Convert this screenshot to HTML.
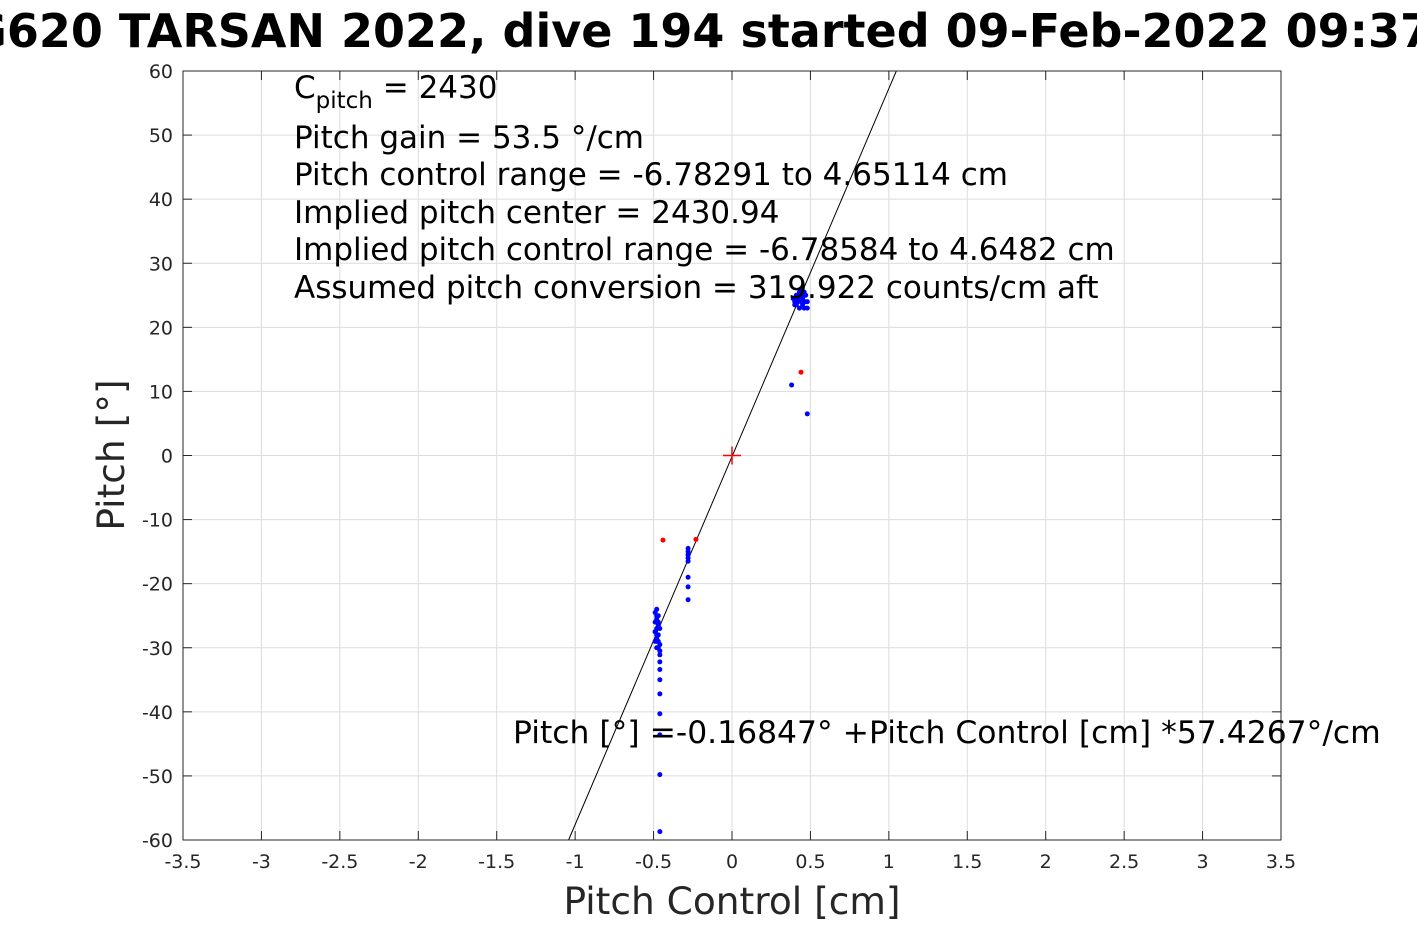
<!DOCTYPE html>
<html><head><meta charset="utf-8">
<style>
body{margin:0;background:#fff;overflow:hidden;}
svg{display:block;font-family:"DejaVu Sans","Liberation Sans",sans-serif;}
</style></head>
<body>
<svg id="chart" width="1417" height="945" xmlns="http://www.w3.org/2000/svg">
<rect width="1417" height="945" fill="#fff"/>
<text x="684" y="47" text-anchor="middle" font-size="46" font-weight="bold">SG620 TARSAN 2022, dive 194 started 09-Feb-2022 09:37</text>
<rect x="183" y="71" width="1098" height="769" fill="#fff"/>
<g id="grid"></g>
<g id="marks"></g>
<rect x="183" y="71" width="1098" height="769" fill="none" stroke="#262626" stroke-width="1"/>
<g id="ticks"></g>
<text x="732" y="914" text-anchor="middle" font-size="37.5" fill="#262626">Pitch Control [cm]</text>
<text transform="translate(124,455) rotate(-90)" text-anchor="middle" font-size="37.5" fill="#262626">Pitch [°]</text>
<g font-size="31" fill="#000">
<text x="294" y="98">C<tspan font-size="23" dy="10">pitch</tspan><tspan dy="-10"> = 2430</tspan></text>
<text x="294" y="148">Pitch gain = 53.5 °/cm</text>
<text x="294" y="185">Pitch control range = -6.78291 to 4.65114 cm</text>
<text x="294" y="223">Implied pitch center = 2430.94</text>
<text x="294" y="260">Implied pitch control range = -6.78584 to 4.6482 cm</text>
<text x="294" y="298">Assumed pitch conversion = 319.922 counts/cm aft</text>
</g>
<text x="513" y="743" font-size="31.4" fill="#000">Pitch [°] =-0.16847° +Pitch Control [cm] *57.4267°/cm</text>
</svg>
<script>
const xTicks=[-3.5,-3,-2.5,-2,-1.5,-1,-0.5,0,0.5,1,1.5,2,2.5,3,3.5];
const yTicks=[-60,-50,-40,-30,-20,-10,0,10,20,30,40,50,60];
const fitIntercept=-0.16847;
const fitSlope=57.4267;
const blueX=[-0.48,-0.49,-0.47,-0.48,-0.49,-0.47,-0.48,-0.46,-0.49,-0.48,-0.47,-0.48,-0.49,-0.47,-0.46,-0.48,-0.47,-0.48,-0.49,-0.47,-0.48,-0.46,-0.46,-0.46,-0.46,-0.46,-0.46,-0.46,-0.46,-0.46,-0.46,
-0.28,-0.28,-0.28,-0.28,-0.28,-0.28,-0.28,-0.28,
0.40,0.42,0.44,0.46,0.41,0.43,0.45,0.47,0.39,0.42,0.44,0.46,0.48,0.40,0.43,0.45,0.47,0.41,0.44,0.46,0.42,0.45,0.48,0.38,0.48];
const blueY=[-24,-24.5,-25,-25.5,-26,-26.5,-27,-27,-27.5,-28,-28,-28.5,-29,-29,-29.5,-30,-30,-25,-27.5,-26,-29,-31.1,-32.2,-33.4,-35,-37.2,-40.3,-43.6,-49.8,-58.7,-30.5,
-14.5,-15,-15.5,-16,-16.5,-19,-20.5,-22.5,
24,24.5,25,25.5,25,25.5,24,24,24.5,24,26,25,23,23.5,23,24.5,25,23.5,24,23,25,23.5,24,11,6.5];
const redX=[-0.44,-0.23,0.44];
const redY=[-13.2,-13.1,13];
const NS="http://www.w3.org/2000/svg";
const L=183,R=1281,T=71,B=840;
const sx=v=>L+(v+3.5)/7*(R-L);
const sy=v=>B-(v+60)/120*(B-T);
const grid=document.getElementById('grid'),ticks=document.getElementById('ticks'),marks=document.getElementById('marks');
function mk(tag,attrs,parent){const e=document.createElementNS(NS,tag);for(const k in attrs)e.setAttribute(k,attrs[k]);parent.appendChild(e);return e;}
xTicks.forEach(v=>{
  const gl=mk('line',{x1:sx(v),x2:sx(v),y1:T,y2:B,stroke:'#dcdcdc','stroke-width':1},grid);
  
  
  mk('line',{x1:sx(v),x2:sx(v),y1:B,y2:B-9,stroke:'#262626'},ticks);
  mk('line',{x1:sx(v),x2:sx(v),y1:T,y2:T+9,stroke:'#262626'},ticks);
  const t=mk('text',{x:sx(v),y:B+28,'text-anchor':'middle','font-size':19,fill:'#262626'},ticks);
  t.textContent=String(v);
  
  
});
yTicks.forEach(v=>{
  const gl=mk('line',{x1:L,x2:R,y1:sy(v),y2:sy(v),stroke:'#dcdcdc','stroke-width':1},grid);
  
  
  mk('line',{x1:L,x2:L+9,y1:sy(v),y2:sy(v),stroke:'#262626'},ticks);
  mk('line',{x1:R,x2:R-9,y1:sy(v),y2:sy(v),stroke:'#262626'},ticks);
  const t=mk('text',{x:L-10,y:sy(v)+7,'text-anchor':'end','font-size':19,fill:'#262626'},ticks);
  t.textContent=String(v);
  
  
});
const xa=(-60-fitIntercept)/fitSlope, xb=(60-fitIntercept)/fitSlope;
const fl=mk('line',{x1:sx(xa),y1:sy(-60),x2:sx(xb),y2:sy(60),stroke:'#000','stroke-width':1},marks);


blueX.forEach((x,i)=>{
  const c=mk('circle',{cx:sx(x),cy:sy(blueY[i]),r:2.5,fill:'#0000ff'},marks);
  
  
});
redX.forEach((x,i)=>{
  const c=mk('circle',{cx:sx(x),cy:sy(redY[i]),r:2.5,fill:'#ff0000'},marks);
  
  
});
const cx=sx(0),cy=sy(0);
const cross=mk('path',{d:`M${cx-9},${cy}H${cx+9}M${cx},${cy-9}V${cy+9}`,stroke:'#ff0000','stroke-width':1.5,fill:'none'},marks);


</script>
</body></html>
